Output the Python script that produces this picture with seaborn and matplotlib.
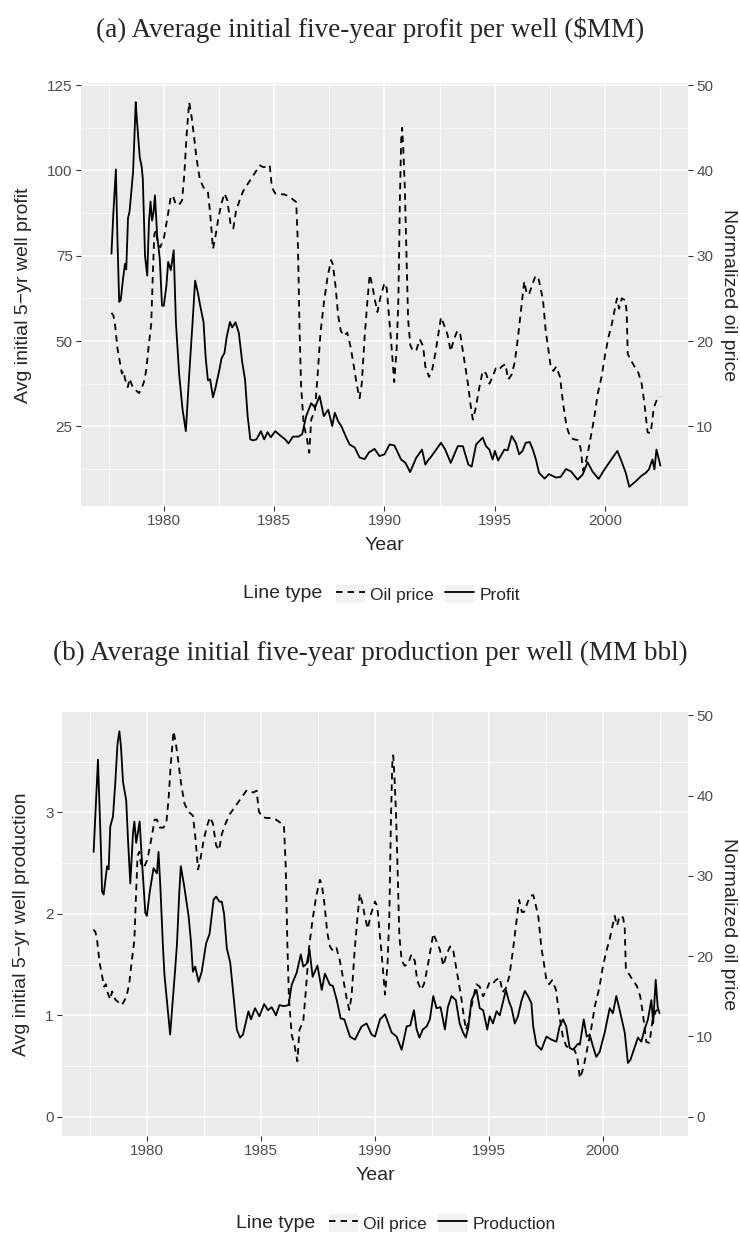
import numpy as np
import pandas as pd
import matplotlib
matplotlib.use("Agg")
import matplotlib.pyplot as plt
import seaborn as sns
from matplotlib.lines import Line2D
from matplotlib.patches import Patch
from matplotlib.legend_handler import HandlerTuple
from matplotlib.ticker import FixedLocator

# ---------------- data ----------------
oil_year = [1977.63, 1977.72, 1977.79, 1977.90, 1978.00, 1978.10, 1978.18, 1978.25, 1978.37, 1978.45,
            1978.59, 1978.75, 1978.88, 1979.00, 1979.10, 1979.20, 1979.32, 1979.43, 1979.50, 1979.57,
            1979.65, 1979.72, 1979.84, 1980.00, 1980.10, 1980.20, 1980.32, 1980.42, 1980.55, 1980.70,
            1980.83, 1980.93, 1981.03, 1981.15, 1981.25, 1981.37, 1981.48, 1981.63, 1981.80, 1982.00,
            1982.10, 1982.23, 1982.35, 1982.48, 1982.62, 1982.75, 1982.88, 1983.02, 1983.15, 1983.27,
            1983.42, 1983.60, 1983.80, 1984.00, 1984.20, 1984.35, 1984.50, 1984.68, 1984.80, 1984.90,
            1985.05, 1985.25, 1985.45, 1985.65, 1985.85, 1986.00, 1986.08, 1986.15, 1986.22, 1986.34,
            1986.47, 1986.59, 1986.68, 1986.85, 1986.97, 1987.10, 1987.26, 1987.42, 1987.58, 1987.66,
            1987.78, 1987.90, 1988.02, 1988.17, 1988.31, 1988.45, 1988.55, 1988.75, 1988.87, 1988.97,
            1989.10, 1989.22, 1989.33, 1989.45, 1989.55, 1989.68, 1989.82, 1990.00, 1990.10, 1990.20,
            1990.30, 1990.44, 1990.55, 1990.63, 1990.70, 1990.76, 1990.80, 1990.86, 1990.92, 1991.00,
            1991.07, 1991.17, 1991.30, 1991.45, 1991.60, 1991.75, 1991.85, 1992.02, 1992.15, 1992.30,
            1992.42, 1992.56, 1992.68, 1992.85, 1993.00, 1993.14, 1993.30, 1993.42, 1993.60, 1993.78,
            1993.90, 1994.00, 1994.12, 1994.30, 1994.45, 1994.60, 1994.75, 1994.90, 1995.04, 1995.18,
            1995.30, 1995.48, 1995.60, 1995.75, 1995.90, 1996.05, 1996.20, 1996.33, 1996.45, 1996.55,
            1996.68, 1996.82, 1996.95, 1997.05, 1997.18, 1997.31, 1997.40, 1997.53, 1997.65, 1997.78,
            1997.95, 1998.10, 1998.25, 1998.40, 1998.55, 1998.75, 1998.88, 1999.00, 1999.10, 1999.20,
            1999.36, 1999.50, 1999.66, 1999.85, 2000.00, 2000.15, 2000.30, 2000.45, 2000.53, 2000.63,
            2000.75, 2000.90, 2000.97, 2001.02, 2001.15, 2001.33, 2001.50, 2001.65, 2001.77, 2001.92,
            2002.06, 2002.20, 2002.35, 2002.50]
oil_price = [23.3, 23.0, 22.0, 19.2, 17.7, 16.2, 16.5, 15.5, 14.6, 15.6,
             14.6, 14.2, 13.9, 14.5, 15.2, 16.5, 19.5, 22.0, 27.5, 32.5,
             33.0, 31.5, 31.0, 32.0, 33.5, 35.0, 37.0, 37.0, 36.0, 36.0,
             36.5, 39.5, 44.0, 48.0, 46.5, 44.0, 41.5, 39.0, 38.0, 37.5,
             35.0, 30.8, 32.4, 34.5, 36.2, 37.3, 36.5, 33.8, 33.2, 35.2,
             36.4, 37.6, 38.4, 39.2, 40.0, 40.6, 40.4, 40.4, 40.6, 38.0,
             37.3, 37.2, 37.2, 37.0, 36.6, 36.3, 31.0, 21.5, 14.8, 10.2,
             8.8, 6.9, 10.8, 11.9, 16.0, 21.0, 24.6, 27.5, 29.5, 29.0,
             26.5, 23.0, 21.2, 20.6, 21.0, 19.5, 18.0, 14.8, 13.3, 15.0,
             20.5, 24.5, 27.8, 26.5, 25.0, 23.4, 25.2, 26.8, 26.2, 23.0,
             20.0, 15.2, 19.0, 25.0, 37.0, 44.0, 45.0, 42.0, 38.0, 30.0,
             22.5, 19.5, 18.8, 19.0, 20.2, 19.4, 17.0, 15.8, 16.5, 18.5,
             20.5, 22.8, 22.0, 20.8, 18.8, 20.2, 21.2, 21.0, 18.0, 15.0,
             12.5, 10.8, 12.0, 14.6, 16.5, 16.2, 15.0, 15.8, 16.8, 16.6,
             17.0, 17.3, 15.5, 16.0, 17.5, 20.5, 24.0, 27.0, 25.5, 25.5,
             26.5, 27.5, 27.6, 26.5, 24.8, 21.0, 19.5, 17.0, 16.5, 17.0,
             15.8, 12.5, 10.0, 8.8, 8.5, 8.4, 7.5, 4.8, 5.6, 6.7,
             9.0, 11.0, 13.8, 16.0, 18.5, 20.5, 22.0, 24.0, 25.0, 23.8,
             25.0, 24.8, 23.5, 18.5, 17.8, 17.0, 16.3, 15.0, 12.8, 9.3,
             9.2, 12.2, 13.2, 13.5]

profit_year = [1977.63, 1977.72, 1977.83, 1977.90, 1977.98, 1978.05, 1978.15, 1978.24, 1978.30, 1978.38,
               1978.45, 1978.61, 1978.73, 1978.78, 1978.91, 1979.00, 1979.05, 1979.15, 1979.25, 1979.33,
               1979.40, 1979.47, 1979.54, 1979.60, 1979.70, 1979.82, 1979.92, 1980.00, 1980.12, 1980.20,
               1980.32, 1980.45, 1980.55, 1980.70, 1980.85, 1981.00, 1981.15, 1981.30, 1981.42, 1981.55,
               1981.65, 1981.80, 1981.90, 1982.00, 1982.10, 1982.23, 1982.35, 1982.50, 1982.62, 1982.75,
               1982.85, 1983.00, 1983.10, 1983.25, 1983.40, 1983.55, 1983.68, 1983.80, 1983.92, 1984.05,
               1984.20, 1984.40, 1984.55, 1984.70, 1984.85, 1985.05, 1985.30, 1985.50, 1985.65, 1985.85,
               1986.10, 1986.27, 1986.45, 1986.68, 1986.85, 1987.06, 1987.25, 1987.45, 1987.63, 1987.75,
               1987.90, 1988.05, 1988.25, 1988.42, 1988.65, 1988.87, 1989.10, 1989.30, 1989.55, 1989.77,
               1990.00, 1990.23, 1990.45, 1990.75, 1990.95, 1991.16, 1991.43, 1991.70, 1991.85, 1992.00,
               1992.10, 1992.56, 1992.75, 1993.00, 1993.32, 1993.55, 1993.80, 1993.95, 1994.15, 1994.45,
               1994.60, 1994.75, 1994.90, 1995.00, 1995.15, 1995.43, 1995.58, 1995.76, 1995.95, 1996.10,
               1996.25, 1996.40, 1996.58, 1996.72, 1996.86, 1997.00, 1997.25, 1997.45, 1997.77, 1997.98,
               1998.22, 1998.45, 1998.75, 1998.98, 1999.20, 1999.42, 1999.70, 2000.00, 2000.33, 2000.55,
               2000.73, 2000.93, 2001.09, 2001.40, 2001.62, 2001.84, 2001.98, 2002.14, 2002.23, 2002.32,
               2002.50]
profit = [75.6, 88.0, 100.3, 80.0, 61.5, 62.0, 68.0, 72.6, 71.0, 86.0,
          88.0, 99.6, 120.0, 115.0, 104.0, 101.0, 97.6, 75.0, 69.2, 85.0,
          90.9, 85.3, 87.9, 92.7, 81.0, 74.0, 60.4, 60.3, 66.3, 73.2,
          70.8, 76.6, 55.5, 40.0, 30.0, 23.6, 40.0, 55.0, 67.7, 64.0,
          60.4, 55.6, 45.0, 38.5, 38.8, 33.5, 36.5, 41.0, 45.0, 46.5,
          51.2, 55.6, 54.0, 55.5, 52.4, 44.0, 38.8, 28.0, 21.2, 20.9,
          21.2, 23.6, 21.2, 23.3, 21.8, 23.6, 22.2, 21.2, 20.0, 22.0,
          22.0, 22.7, 28.0, 31.8, 30.5, 33.9, 28.0, 29.9, 25.1, 29.0,
          26.5, 25.0, 22.0, 19.7, 18.8, 15.9, 15.4, 17.4, 18.4, 16.3,
          16.8, 19.7, 19.4, 15.3, 14.3, 11.6, 15.7, 18.2, 13.8, 15.3,
          16.0, 20.2, 18.2, 14.3, 19.2, 19.2, 13.8, 13.2, 19.7, 21.7,
          19.2, 18.2, 15.3, 17.8, 15.0, 18.2, 18.0, 22.2, 20.2, 16.8,
          17.8, 20.2, 20.4, 18.2, 15.3, 11.4, 9.7, 11.0, 10.0, 10.2,
          12.5, 11.8, 9.4, 10.9, 14.5, 11.8, 9.6, 12.7, 15.8, 17.8,
          14.9, 11.4, 7.3, 9.0, 10.4, 11.4, 12.4, 15.3, 12.4, 18.2,
          13.5]

prod_year = [1977.64, 1977.83, 1977.96, 1978.01, 1978.08, 1978.23, 1978.30, 1978.37, 1978.49, 1978.59,
             1978.69, 1978.77, 1978.84, 1978.93, 1979.07, 1979.15, 1979.25, 1979.37, 1979.43, 1979.51,
             1979.66, 1979.76, 1979.91, 1979.98, 1980.10, 1980.27, 1980.42, 1980.49, 1980.57, 1980.68,
             1980.75, 1981.00, 1981.22, 1981.30, 1981.40, 1981.47, 1981.62, 1981.81, 1981.91, 1982.00,
             1982.10, 1982.25, 1982.39, 1982.58, 1982.73, 1982.91, 1983.02, 1983.17, 1983.27, 1983.37,
             1983.49, 1983.64, 1983.78, 1983.93, 1984.07, 1984.20, 1984.44, 1984.55, 1984.73, 1984.92,
             1985.13, 1985.30, 1985.46, 1985.65, 1985.80, 1986.00, 1986.20, 1986.34, 1986.56, 1986.74,
             1986.85, 1987.00, 1987.12, 1987.26, 1987.47, 1987.66, 1987.80, 1988.02, 1988.15, 1988.32,
             1988.49, 1988.65, 1988.90, 1989.12, 1989.41, 1989.63, 1989.85, 1990.00, 1990.22, 1990.44,
             1990.73, 1990.95, 1991.17, 1991.39, 1991.55, 1991.71, 1991.83, 1991.95, 1992.10, 1992.27,
             1992.41, 1992.56, 1992.70, 1992.88, 1993.07, 1993.20, 1993.36, 1993.55, 1993.72, 1993.87,
             1993.99, 1994.10, 1994.24, 1994.46, 1994.60, 1994.75, 1994.93, 1995.04, 1995.18, 1995.34,
             1995.48, 1995.63, 1995.75, 1995.88, 1996.00, 1996.14, 1996.28, 1996.43, 1996.58, 1996.72,
             1996.87, 1996.95, 1997.09, 1997.31, 1997.53, 1997.75, 1997.97, 1998.11, 1998.26, 1998.40,
             1998.55, 1998.70, 1998.92, 1999.00, 1999.17, 1999.30, 1999.43, 1999.58, 1999.72, 1999.87,
             2000.09, 2000.31, 2000.45, 2000.60, 2000.75, 2000.97, 2001.11, 2001.22, 2001.40, 2001.55,
             2001.70, 2001.84, 2001.99, 2002.14, 2002.22, 2002.33, 2002.42, 2002.50]
production = [2.61, 3.52, 2.64, 2.22, 2.19, 2.47, 2.44, 2.86, 2.96, 3.29,
              3.68, 3.80, 3.65, 3.30, 3.12, 2.73, 2.30, 2.80, 2.91, 2.70,
              2.91, 2.53, 2.01, 1.98, 2.21, 2.45, 2.40, 2.61, 2.27, 1.70,
              1.40, 0.81, 1.45, 1.70, 2.20, 2.47, 2.27, 1.98, 1.74, 1.43,
              1.48, 1.33, 1.43, 1.71, 1.80, 2.14, 2.17, 2.12, 2.12, 2.00,
              1.66, 1.52, 1.20, 0.86, 0.78, 0.81, 1.04, 0.96, 1.07, 0.99,
              1.11, 1.05, 1.08, 1.00, 1.10, 1.09, 1.10, 1.30, 1.42, 1.60,
              1.48, 1.51, 1.65, 1.38, 1.49, 1.25, 1.41, 1.30, 1.29, 1.15,
              0.97, 0.96, 0.79, 0.76, 0.89, 0.92, 0.81, 0.79, 0.96, 1.01,
              0.83, 0.79, 0.66, 0.89, 0.90, 1.05, 0.86, 0.78, 0.86, 0.89,
              0.96, 1.19, 1.07, 1.08, 0.86, 1.08, 1.19, 1.15, 0.92, 0.83,
              0.78, 0.88, 1.15, 1.25, 1.07, 1.05, 0.86, 0.99, 0.92, 1.04,
              1.00, 1.14, 1.25, 1.14, 1.07, 0.92, 0.99, 1.14, 1.24, 1.19,
              1.12, 0.89, 0.71, 0.66, 0.79, 0.76, 0.74, 0.89, 0.96, 0.89,
              0.68, 0.66, 0.72, 0.71, 0.96, 0.79, 0.81, 0.69, 0.59, 0.64,
              0.83, 1.07, 1.02, 1.19, 1.05, 0.83, 0.53, 0.56, 0.68, 0.78,
              0.74, 0.86, 0.96, 1.15, 0.92, 1.35, 1.08, 1.02]

x_major = [1980, 1985, 1990, 1995, 2000]
x_minor = [1977.5, 1982.5, 1987.5, 1992.5, 1997.5, 2002.5]
x_limits = (1976.25, 2003.75)
profit_ticks = [25, 50, 75, 100, 125]
profit_minor = [12.5, 37.5, 62.5, 87.5, 112.5]
prod_ticks = [0, 1, 2, 3]
prod_minor = [0.5, 1.5, 2.5, 3.5]
oil_ticks_a = [10, 20, 30, 40, 50]
oil_ticks_b = [0, 10, 20, 30, 40, 50]

# ---------------- style ----------------
sns.set_theme(style="darkgrid")
plt.rcParams["font.family"] = ["Liberation Sans", "DejaVu Sans"]
plt.rcParams["axes.unicode_minus"] = True

W, H = 740, 1239
fig = plt.figure(figsize=(W / 100, H / 100), dpi=100)


def fx(px):
    return px / W


def fy(py):
    return 1 - py / H


def box(l, r, t, b):
    return [fx(l), fy(b), (r - l) / W, (b - t) / H]


BG = "#EBEBEB"
TICKCOL = "#4D4D4D"
LW = 1.3
DASH = (3.6, 2.8)
TICK_FS = 11
TITLE_FS = 14
SERIF_FS = 19.5


def style_axes(ax, ymaj, ymin):
    ax.set_facecolor(BG)
    for s in ax.spines.values():
        s.set_visible(False)
    ax.xaxis.set_major_locator(FixedLocator(x_major))
    ax.xaxis.set_minor_locator(FixedLocator(x_minor))
    ax.yaxis.set_major_locator(FixedLocator(ymaj))
    ax.yaxis.set_minor_locator(FixedLocator(ymin))
    ax.grid(which="major", color="white", lw=1.1)
    ax.grid(which="minor", color="white", lw=0.55)
    ax.set_axisbelow(True)
    ax.tick_params(which="major", length=3.5, width=0.8, color="#333333",
                   labelsize=TICK_FS, labelcolor=TICKCOL, pad=2.5,
                   bottom=True, left=True)
    ax.tick_params(which="minor", length=0, bottom=False, left=False)
    ax.set_xlabel("")
    ax.set_ylabel("")
    ax.set_xlim(*x_limits)
    if ax.get_legend() is not None:
        ax.get_legend().remove()


def add_secondary(ax, coef, ticks):
    sec = ax.secondary_yaxis("right", functions=(lambda v: v / coef, lambda v: v * coef))
    sec.yaxis.set_major_locator(FixedLocator(ticks))
    for s in sec.spines.values():
        s.set_visible(False)
    sec.tick_params(length=3.5, width=0.8, color="#333333", labelsize=TICK_FS,
                    labelcolor=TICKCOL, pad=2.5)
    return sec


def padded(lo, hi, frac=0.05):
    r = hi - lo
    return lo - frac * r, hi + frac * r


def add_legend(y_px, x_title, x_items, label2):
    fig.text(fx(x_title), fy(y_px), "Line type", fontsize=TITLE_FS, ha="left", va="center")
    bgk = dict(facecolor="#F2F2F2", edgecolor="none")
    h1 = (Patch(**bgk), Line2D([], [], color="black", lw=LW, ls=(0, DASH)))
    h2 = (Patch(**bgk), Line2D([], [], color="black", lw=LW))
    fig.legend(handles=[h1, h2], labels=["Oil price", label2],
               handler_map={tuple: HandlerTuple(ndivide=1, pad=0)},
               loc="center left", bbox_to_anchor=(fx(x_items), fy(y_px)),
               ncol=2, frameon=False, fontsize=12.5, borderpad=0,
               handlelength=1.7, handleheight=1.3, handletextpad=0.3,
               columnspacing=0.6)


# ---------------- panel (a) ----------------
coef_a = max(profit) / max(oil_price)
df_oil = pd.DataFrame({"year": oil_year, "oil": oil_price})
df_profit = pd.DataFrame({"year": profit_year, "profit": profit})
df_oil["oil_a"] = df_oil["oil"] * coef_a

ax1 = fig.add_axes(box(81, 688, 83, 506))
sns.lineplot(data=df_oil, x="year", y="oil_a", ax=ax1, color="black", lw=LW,
             linestyle=(0, DASH), estimator=None, sort=False)
sns.lineplot(data=df_profit, x="year", y="profit", ax=ax1, color="black", lw=LW,
             estimator=None, sort=False)
style_axes(ax1, profit_ticks, profit_minor)
lo = min(df_profit["profit"].min(), df_oil["oil_a"].min())
hi = max(df_profit["profit"].max(), df_oil["oil_a"].max())
ax1.set_ylim(*padded(lo, hi))
add_secondary(ax1, coef_a, oil_ticks_a)

fig.text(fx(370), fy(30), "(a) Average initial five-year profit per well ($MM)",
         family=["Liberation Serif", "DejaVu Serif"], fontsize=SERIF_FS, ha="center", va="center")
fig.text(fx(24), fy(295), "Avg initial 5\u2212yr well profit", rotation=90,
         fontsize=TITLE_FS, ha="center", va="center")
fig.text(fx(729), fy(295), "Normalized oil price", rotation=-90,
         fontsize=TITLE_FS, ha="center", va="center")
fig.text(fx(384), fy(546), "Year", fontsize=TITLE_FS, ha="center", va="center")
add_legend(594, 243, 327, "Profit")

# ---------------- panel (b) ----------------
coef_b = max(production) / max(oil_price)
df_prod = pd.DataFrame({"year": prod_year, "production": production})
df_oil["oil_b"] = df_oil["oil"] * coef_b

ax2 = fig.add_axes(box(62, 688, 712, 1136))
sns.lineplot(data=df_oil, x="year", y="oil_b", ax=ax2, color="black", lw=LW,
             linestyle=(0, DASH), estimator=None, sort=False)
sns.lineplot(data=df_prod, x="year", y="production", ax=ax2, color="black", lw=LW,
             estimator=None, sort=False)
style_axes(ax2, prod_ticks, prod_minor)
hi_b = max(df_prod["production"].max(), df_oil["oil_b"].max())
ax2.set_ylim(*padded(0, hi_b))
add_secondary(ax2, coef_b, oil_ticks_b)

fig.text(fx(370), fy(653), "(b) Average initial five-year production per well (MM bbl)",
         family=["Liberation Serif", "DejaVu Serif"], fontsize=SERIF_FS, ha="center", va="center")
fig.text(fx(22), fy(924), "Avg initial 5\u2212yr well production", rotation=90,
         fontsize=TITLE_FS, ha="center", va="center")
fig.text(fx(729), fy(924), "Normalized oil price", rotation=-90,
         fontsize=TITLE_FS, ha="center", va="center")
fig.text(fx(375), fy(1175), "Year", fontsize=TITLE_FS, ha="center", va="center")
add_legend(1223, 236, 320, "Production")

fig.savefig("out.png", dpi=100)
